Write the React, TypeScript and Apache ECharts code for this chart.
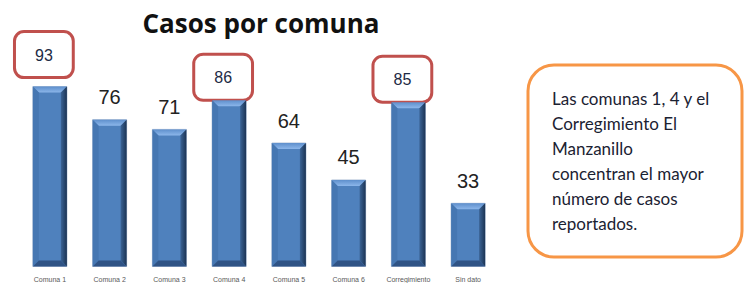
import React, { useEffect, useRef } from "react";
import * as echarts from "echarts";

const categories = ["Comuna 1", "Comuna 2", "Comuna 3", "Comuna 4", "Comuna 5", "Comuna 6", "Corregimiento", "Sin dato"];
const values = [93, 76, 71, 86, 64, 45, 85, 33];
const highlighted = [0, 3, 6];
const boxDistance = [10, 0, 0, 1, 0, 0, 1, 0];
const titleText = "Casos por comuna";
const noteText = "Las comunas 1, 4 y el\nCorregimiento El\nManzanillo\nconcentran el mayor\nnúmero de casos\nreportados.";

export default function App() {
  const ref = useRef<HTMLDivElement>(null);
  useEffect(() => {
    if (!ref.current) return;
    const chart = echarts.init(ref.current, null, { renderer: "svg" });
    const barData = values.map((v, i) => {
      if (highlighted.includes(i)) {
        return {
          value: v,
          label: {
            show: true,
            position: "top",
            distance: boxDistance[i],
            offset: [-6, 0],
            fontSize: 16,
            lineHeight: 20,
            color: "#1d2a44",
            fontFamily: "Liberation Sans",
            backgroundColor: "#ffffff",
            borderColor: "#c0504d",
            borderWidth: 3,
            borderRadius: 8,
            padding: [12, 19, 11, 19],
          },
        };
      }
      return { value: v };
    });
    chart.setOption({
      animation: false,
      backgroundColor: "#ffffff",
      title: {
        text: titleText,
        left: 256,
        textAlign: "center",
        top: 5,
        textStyle: { fontFamily: "Open Sans", fontWeight: 700, fontSize: 26, color: "#111111" },
      },
      grid: { left: 20, right: 248, top: 72.5, bottom: 15 },
      xAxis: {
        type: "category",
        data: categories,
        axisLine: { show: false },
        axisTick: { show: false },
        axisLabel: { fontSize: 7, color: "#595959", margin: 9, interval: 0, fontFamily: "Liberation Sans" },
      },
      yAxis: { type: "value", min: 0, max: 100, show: false, splitLine: { show: false } },
      series: [
        {
          type: "bar",
          data: barData,
          barWidth: 35,
          itemStyle: {
            color: "#4f81bd",
            borderColor: "#aebfd6",
            borderWidth: 1,
          },
          label: {
            show: true,
            position: "top",
            distance: 12,
            fontSize: 20,
            color: "#222222",
            fontFamily: "Liberation Sans",
          },
          z: 2,
        },
        {
          type: "custom",
          data: values.map((v, i) => [i, v]),
          z: 3,
          silent: true,
          renderItem: (params: any, api: any) => {
            const top = api.coord([api.value(0), api.value(1)]);
            const base = api.coord([api.value(0), 0]);
            const w = 35;
            const b = 6;
            const x0 = top[0] - w / 2 + 0.5;
            const x1 = top[0] + w / 2 - 0.5;
            const y0 = top[1] + 0.5;
            const yB = base[1] - 0.5;
            return {
              type: "group",
              children: [
                {
                  type: "polygon",
                  shape: { points: [[x0, y0], [x1, y0], [x1 - b, y0 + b], [x0 + b, y0 + b]] },
                  style: {
                    fill: new echarts.graphic.LinearGradient(0, 0, 0, 1, [
                      { offset: 0, color: "#5e8fcc" },
                      { offset: 1, color: "#8cb6ea" },
                    ]),
                  },
                },
                {
                  type: "polygon",
                  shape: { points: [[x1, y0], [x1, yB], [x1 - b, yB - b], [x1 - b, y0 + b]] },
                  style: {
                    fill: new echarts.graphic.LinearGradient(0, 0, 1, 0, [
                      { offset: 0, color: "#3b6496" },
                      { offset: 1, color: "#1c3454" },
                    ]),
                  },
                },
                {
                  type: "polygon",
                  shape: { points: [[x0, y0], [x0 + b, y0 + b], [x0 + b, yB - b], [x0, yB]] },
                  style: { fill: "#4677b2" },
                },
                {
                  type: "polygon",
                  shape: { points: [[x0, yB], [x0 + b, yB - b], [x1 - b, yB - b], [x1, yB]] },
                  style: { fill: "#2f5385" },
                },
              ],
            };
          },
        },
      ],
      graphic: [
        {
          type: "rect",
          shape: { x: 528, y: 65, width: 214, height: 192, r: 26 },
          style: { fill: "#ffffff", stroke: "#f79646", lineWidth: 3 },
        },
        {
          type: "text",
          x: 552,
          y: 86,
          style: {
            text: noteText,
            fontFamily: "Lato",
            fontSize: 17,
            lineHeight: 25,
            fill: "#1b2232",
            verticalAlign: "top",
          },
        },
      ],
    });
    return () => chart.dispose();
  }, []);
  return <div ref={ref} style={{ position: "fixed", left: 0, top: 0, width: 746, height: 283 }} />;
}
